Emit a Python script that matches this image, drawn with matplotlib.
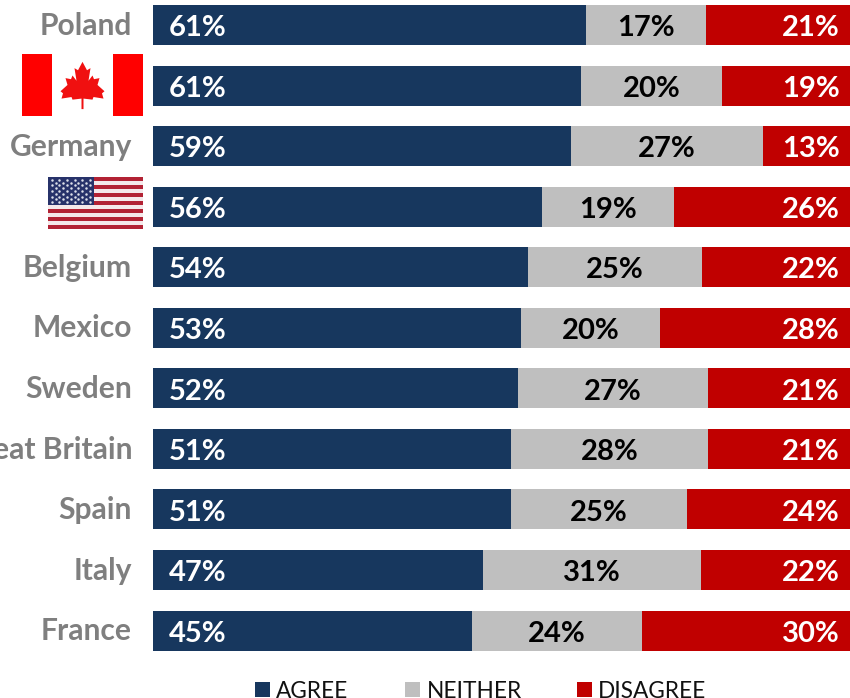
import numpy as np
import matplotlib
matplotlib.use("Agg")
import matplotlib.pyplot as plt
from matplotlib.patches import Rectangle, Polygon

countries = ["Poland", "Canada", "Germany", "United States", "Belgium", "Mexico",
             "Sweden", "Great Britain", "Spain", "Italy", "France"]
agree = [61, 61, 59, 56, 54, 53, 52, 51, 51, 47, 45]
neither = [17, 20, 27, 19, 25, 20, 27, 28, 25, 31, 24]
disagree = [21, 19, 13, 26, 22, 28, 21, 21, 24, 22, 30]
series_names = ["AGREE", "NEITHER", "DISAGREE"]
series_colors = ["#17375E", "#BFBFBF", "#C00000"]
text_colors = ["white", "black", "white"]
flag_rows = ["Canada", "United States"]

W, H = 850, 698
PX = 0.72  # points per pixel at 100 dpi
plt.rcParams["font.family"] = ["Lato", "DejaVu Sans"]
fig = plt.figure(figsize=(W / 100, H / 100), dpi=100, facecolor="white")

# Bars span the full shares, normalised to each row's total (percent stacked);
# the axes run slightly past the right edge of the figure
ax = fig.add_axes([153 / W, 0, (855 - 153) / W, 1])
rows = np.arange(len(countries))
table = np.array([agree, neither, disagree], dtype=float)
shares = table / table.sum(axis=0) * 100
pitch, first_center = 60.55, 25.0
left = np.zeros(len(countries))
for k, name in enumerate(series_names):
    ax.barh(rows, shares[k], left=left, height=40 / pitch, color=series_colors[k], label=name)
    for r in rows:
        if k == 0:
            x, ha, pad = 0, "left", 16
        elif k == 1:
            x, ha, pad = left[r] + shares[k][r] / 2, "center", 0
        else:
            x, ha, pad = 100, "right", -15.5
        ax.annotate(f"{int(table[k][r])}%", (x, r), xytext=(pad * PX, -3.2 * PX),
                    textcoords="offset points", ha=ha, va="center",
                    color=text_colors[k], fontsize=21, fontweight="bold",
                    annotation_clip=False)
    left += shares[k]
ax.set_xlim(0, 100)
ax.set_ylim((H - first_center) / pitch, -first_center / pitch)
ax.axis("off")

# Country names sit to the left of the bars; two rows carry flags instead
for r, c in zip(rows, countries):
    if c not in flag_rows:
        ax.annotate(c, (0, r), xytext=(-21 * PX, -0.7 * PX), textcoords="offset points",
                    ha="right", va="center", color="#7F7F7F",
                    fontsize=21.6, fontweight="bold", annotation_clip=False)

# Overlay in pixel units for the flags and the legend keys
ov = fig.add_axes([0, 0, 1, 1], facecolor="none")
ov.set_xlim(0, W)
ov.set_ylim(H, 0)
ov.axis("off")

# Canadian flag
ov.add_patch(Rectangle((22, 54), 121, 62, color="white", lw=0))
ov.add_patch(Rectangle((22, 54), 30, 62, color="#FF0000", lw=0))
ov.add_patch(Rectangle((113, 54), 30, 62, color="#FF0000", lw=0))
half_leaf = [(0, -23), (-4.5, -15), (-8, -17), (-6, -5), (-10, -10), (-11.5, -6.5),
             (-17, -7.5), (-15, -1), (-22, 5), (-19.5, 7), (-21, 12), (-11, 10.5),
             (-10, 13), (-1, 12), (-1, 22)]
leaf = half_leaf + [(-x, y) for x, y in half_leaf[::-1]]
ov.add_patch(Polygon([(82.5 + x, 86 + y * 1.05) for x, y in leaf],
                     closed=True, color="#F01010", lw=0))

# United States flag
ux, uy, uw, uh = 48, 177, 95, 52
stripe_h = uh / 13
for i in range(13):
    ov.add_patch(Rectangle((ux, uy + i * stripe_h), uw, stripe_h,
                           color="#B22234" if i % 2 == 0 else "#F4E8EA", lw=0))
ov.add_patch(Rectangle((ux, uy), 46, 28, color="#27326A", lw=0))
sx, sy = [], []
for j in range(9):
    cols = 6 if j % 2 == 0 else 5
    off = 3.8 if j % 2 == 0 else 7.6
    for i in range(cols):
        sx.append(ux + off + i * 7.6)
        sy.append(uy + 2.8 + j * 2.8)
ov.scatter(sx, sy, s=3.2, color="#DDE0EA", lw=0)

# Legend keys and labels along the lower edge
key_x = [255, 405, 577]
label_x = [276, 427, 598]
for name, color, kx, lx in zip(series_names, series_colors, key_x, label_x):
    ov.add_patch(Rectangle((kx, 682), 15, 15, color=color, lw=0))
    ov.text(lx, 697.5, name, ha="left", va="baseline", fontsize=16.3, color="#111111")

fig.savefig("out.png", dpi=100)
